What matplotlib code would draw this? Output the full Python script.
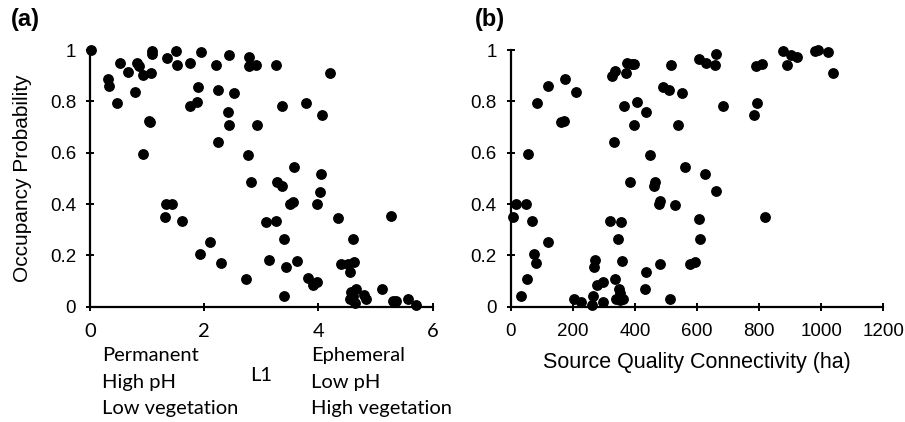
import matplotlib
matplotlib.use("Agg")
import matplotlib.pyplot as plt

# panel (a): L1 score vs occupancy probability
l1_score = [0.01, 0.32, 0.33, 0.47, 0.53, 0.67, 0.78, 0.82, 0.86, 0.92,
            0.93, 1.04, 1.05, 1.06, 1.09, 1.09, 1.31, 1.33, 1.43, 1.35,
            1.51, 1.52, 1.62, 1.75, 1.75, 1.87, 1.90, 1.93, 1.95, 2.11,
            2.21, 2.24, 2.25, 2.29, 2.44, 2.42, 2.44, 2.53, 2.74, 2.76,
            2.78, 2.78, 2.82, 2.90, 2.92, 3.09, 3.14, 3.25, 3.26, 3.27,
            3.36, 3.36, 3.39, 3.40, 3.44, 3.50, 3.56, 3.57, 3.62, 3.78,
            3.82, 3.90, 3.97, 3.98, 4.02, 4.05, 4.06, 4.20, 4.35, 4.40,
            4.52, 4.55, 4.57, 4.55, 4.61, 4.62, 4.65, 4.61, 4.64, 4.79,
            4.83, 5.11, 5.27, 5.30, 5.35, 5.57, 5.70]
occ_a = [1.000, 0.886, 0.861, 0.792, 0.951, 0.914, 0.835, 0.951, 0.936, 0.594,
         0.903, 0.725, 0.718, 0.912, 0.997, 0.984, 0.348, 0.399, 0.399, 0.968,
         0.996, 0.943, 0.332, 0.948, 0.782, 0.797, 0.857, 0.204, 0.994, 0.251,
         0.942, 0.845, 0.643, 0.169, 0.981, 0.758, 0.706, 0.832, 0.108, 0.592,
         0.974, 0.938, 0.484, 0.943, 0.706, 0.329, 0.183, 0.332, 0.942, 0.487,
         0.471, 0.783, 0.043, 0.262, 0.153, 0.399, 0.409, 0.545, 0.177, 0.795,
         0.112, 0.084, 0.095, 0.399, 0.448, 0.516, 0.747, 0.910, 0.344, 0.166,
         0.165, 0.134, 0.058, 0.030, 0.264, 0.175, 0.070, 0.043, 0.016, 0.044,
         0.030, 0.070, 0.353, 0.021, 0.023, 0.030, 0.006]

# panel (b): source quality connectivity (ha) vs occupancy probability
connectivity = [9, 17, 32, 50, 52, 57, 69, 75, 81, 86,
                119, 119, 161, 172, 176, 210, 204, 227, 262, 264,
                267, 273, 277, 298, 297, 319, 327, 333, 335, 335,
                339, 344, 350, 352, 354, 357, 353, 363, 365, 370,
                374, 384, 390, 398, 398, 408, 434, 436, 436, 449,
                461, 466, 478, 481, 480, 491, 511, 513, 517, 528,
                538, 551, 563, 578, 593, 605, 608, 611, 626, 628,
                657, 661, 662, 685, 783, 789, 794, 811, 818, 878,
                891, 904, 922, 979, 990, 1023, 1037]
occ_b = [0.348, 0.399, 0.043, 0.399, 0.108, 0.594, 0.332, 0.204, 0.169, 0.792,
         0.251, 0.860, 0.718, 0.725, 0.886, 0.835, 0.029, 0.017, 0.006, 0.043,
         0.153, 0.183, 0.084, 0.095, 0.018, 0.332, 0.900, 0.643, 0.918, 0.108,
         0.029, 0.262, 0.070, 0.052, 0.331, 0.177, 0.026, 0.030, 0.782, 0.909,
         0.951, 0.484, 0.945, 0.947, 0.706, 0.796, 0.069, 0.134, 0.758, 0.592,
         0.471, 0.486, 0.399, 0.412, 0.165, 0.857, 0.844, 0.029, 0.943, 0.397,
         0.706, 0.832, 0.544, 0.166, 0.173, 0.343, 0.966, 0.264, 0.516, 0.948,
         0.943, 0.984, 0.449, 0.782, 0.747, 0.939, 0.795, 0.944, 0.351, 0.995,
         0.943, 0.981, 0.974, 0.995, 0.999, 0.994, 0.910]

y_ticks = [0, 0.2, 0.4, 0.6, 0.8, 1]
y_ticklabels = ["0", "0.2", "0.4", "0.6", "0.8", "1"]
a_xticks = [0, 2, 4, 6]
b_xticks = [0, 200, 400, 600, 800, 1000, 1200]
left_desc = ["Permanent", "High pH", "Low vegetation"]
right_desc = ["Ephemeral", "Low pH", "High vegetation"]

arial = "Liberation Sans"
calibri = "Lato"

fig = plt.figure(figsize=(9.05, 4.22), dpi=100)
ax1 = fig.add_axes([0.0994, 0.2732, 0.3787, 0.6083])
ax2 = fig.add_axes([0.5643, 0.2732, 0.4117, 0.6083])


def style_axis(ax):
    for side in ["top", "right"]:
        ax.spines[side].set_visible(False)
    for side in ["left", "bottom"]:
        ax.spines[side].set_linewidth(1.6)
    ax.set_ylim(0, 1)
    ax.set_yticks(y_ticks)
    ax.set_yticklabels(y_ticklabels, fontfamily=arial, fontsize=13.5)
    ax.tick_params(direction="inout", length=6, width=1.4)
    ax.tick_params(axis="y", pad=7)
    ax.tick_params(axis="x", pad=8.5)


ax1.scatter(l1_score, occ_a, s=46, color="black", clip_on=False, zorder=3)
style_axis(ax1)
ax1.set_xlim(0, 6)
ax1.set_xticks(a_xticks)
ax1.set_xticklabels([str(v) for v in a_xticks], fontfamily=calibri, fontsize=14.5)
ax1.set_ylabel("Occupancy Probability", fontfamily=arial, fontsize=15)
ax1.yaxis.set_label_coords(-0.168, 0.5)

# axis descriptors under panel (a), one line at a time
line_y = [-0.19, -0.297, -0.395]
for txt, yy in zip(left_desc, line_y):
    ax1.text(0.035, yy, txt, transform=ax1.transAxes, ha="left", va="center",
             fontfamily=calibri, fontsize=14.5)
for txt, yy in zip(right_desc, line_y):
    ax1.text(0.645, yy, txt, transform=ax1.transAxes, ha="left", va="center",
             fontfamily=calibri, fontsize=14.5)
ax1.text(0.50, -0.268, "L1", transform=ax1.transAxes, ha="center", va="center",
         fontfamily=calibri, fontsize=14.5)

ax2.scatter(connectivity, occ_b, s=46, color="black", clip_on=False, zorder=3)
style_axis(ax2)
ax2.set_xlim(0, 1200)
ax2.set_xticks(b_xticks)
ax2.set_xticklabels([str(v) for v in b_xticks], fontfamily=arial, fontsize=13.5)
ax2.set_xlabel("Source Quality Connectivity (ha)", fontfamily=arial, fontsize=15.5, labelpad=9)

fig.text(0.012, 0.953, "(a)", fontfamily=arial, fontsize=17, fontweight="bold", va="center")
fig.text(0.525, 0.953, "(b)", fontfamily=arial, fontsize=17, fontweight="bold", va="center")

fig.savefig("out.png", dpi=100)
